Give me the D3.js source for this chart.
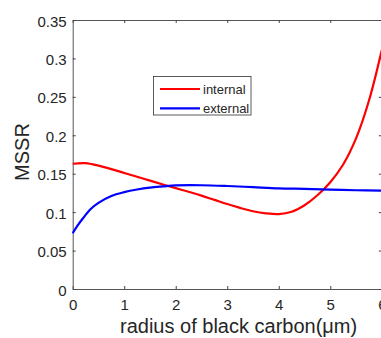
<!DOCTYPE html>
<html>
<head>
<meta charset="utf-8">
<script src="https://cdn.jsdelivr.net/npm/d3@7"></script>
<style>
  html, body { margin: 0; padding: 0; background: #fff; overflow: hidden; }
  svg { display: block; font-family: "Liberation Sans", Arial, Helvetica, sans-serif; }
</style>
</head>
<body>
<svg id="chart" width="381" height="338"></svg>
<script>
// MSSR versus black carbon radius, for internal and external mixing
const radiusInternal = [0, 0.25, 0.5, 0.75, 1.0, 1.25, 1.5, 1.75, 2.0, 2.25, 2.5, 2.75, 3.0,
                        3.25, 3.5, 3.75, 4.0, 4.25, 4.5, 4.75, 5.0, 5.25, 5.5, 5.75, 6.0];
const mssrInternal   = [0.163, 0.1637, 0.1605, 0.156, 0.151, 0.146, 0.141, 0.136, 0.1312, 0.1265,
                        0.1215, 0.116, 0.1105, 0.1055, 0.1012, 0.0985, 0.0975, 0.1005, 0.109, 0.122,
                        0.139, 0.162, 0.196, 0.245, 0.311];

const radiusExternal = [0, 0.1, 0.2, 0.35, 0.5, 0.75, 1.0, 1.25, 1.5, 1.75, 2.0, 2.5, 3.0,
                        3.5, 4.0, 4.5, 5.0, 5.5, 6.0];
const mssrExternal   = [0.0725, 0.083, 0.092, 0.104, 0.112, 0.121, 0.126, 0.1295, 0.132,
                        0.1335, 0.1348, 0.135, 0.134, 0.1325, 0.131, 0.1303, 0.1294, 0.1285, 0.128];

const xTicks = [0, 1, 2, 3, 4, 5, 6];
const yTicks = [0, 0.05, 0.1, 0.15, 0.2, 0.25, 0.3, 0.35];

const seriesNames  = ["internal", "external"];
const seriesColors = ["#ff0000", "#0000ff"];

const svg = d3.select("#chart");
const plot = { left: 72.7, right: 381.8, top: 20, bottom: 289 };
const textColor = "#262626";

const x = d3.scaleLinear().domain([0, 6]).range([plot.left, plot.right]);
const y = d3.scaleLinear().domain([0, 0.35]).range([plot.bottom, plot.top]);

// axes with inward ticks on all four sides
const tickLen = 3;
const fmtY = d => d === 0 ? "0" : String(+d.toFixed(2));

const gBottom = svg.append("g").attr("transform", `translate(0,${plot.bottom})`)
  .call(d3.axisBottom(x).tickValues(xTicks).tickSizeInner(-tickLen).tickSizeOuter(0).tickPadding(10).tickFormat(d3.format("d")));
const gTop = svg.append("g").attr("transform", `translate(0,${plot.top})`)
  .call(d3.axisTop(x).tickValues(xTicks).tickSizeInner(-tickLen).tickSizeOuter(0).tickFormat(""));
const gLeft = svg.append("g").attr("transform", `translate(${plot.left},0)`)
  .call(d3.axisLeft(y).tickValues(yTicks).tickSizeInner(-tickLen).tickSizeOuter(0).tickPadding(6).tickFormat(fmtY));
const gRight = svg.append("g").attr("transform", `translate(${plot.right},0)`)
  .call(d3.axisRight(y).tickValues(yTicks).tickSizeInner(-tickLen).tickSizeOuter(0).tickFormat(""));

[gBottom, gTop, gLeft, gRight].forEach(g => {
  g.select(".domain").attr("stroke", "#555").attr("stroke-width", 1);
  g.selectAll(".tick line").attr("stroke", "#444").attr("stroke-width", 1);
  g.selectAll(".tick text").attr("fill", textColor).attr("font-size", 15)
    .attr("font-family", "Liberation Sans, Arial, sans-serif");
});
gLeft.selectAll(".tick text").attr("dy", "0.4em");

// data curves
const line = d3.line().x(d => x(d[0])).y(d => y(d[1])).curve(d3.curveCatmullRom.alpha(0.5));
const dataSets = [
  d3.zip(radiusInternal, mssrInternal),
  d3.zip(radiusExternal, mssrExternal)
];
dataSets.forEach((pts, i) => {
  svg.append("path").datum(pts)
    .attr("d", line)
    .attr("fill", "none")
    .attr("stroke", seriesColors[i])
    .attr("stroke-width", 2.2)
    .attr("stroke-linejoin", "round");
});

// axis titles
svg.append("text")
  .attr("x", 120).attr("y", 333)
  .attr("fill", textColor).attr("font-size", 20)
  .text("radius of black carbon(μm)");

svg.append("text")
  .attr("transform", "translate(29,152) rotate(-90)")
  .attr("text-anchor", "middle")
  .attr("fill", textColor).attr("font-size", 20)
  .text("MSSR");

// legend
const lg = svg.append("g");
lg.append("rect")
  .attr("x", 153.5).attr("y", 76.5).attr("width", 97.5).attr("height", 38.5)
  .attr("fill", "#fff").attr("stroke", "#333").attr("stroke-width", 0.8);
seriesNames.forEach((name, i) => {
  const ly = 89 + i * 19.3;
  lg.append("line")
    .attr("x1", 160).attr("x2", 200).attr("y1", ly).attr("y2", ly)
    .attr("stroke", seriesColors[i]).attr("stroke-width", 2.2);
  lg.append("text")
    .attr("x", 203).attr("y", ly).attr("dy", "0.36em")
    .attr("fill", textColor).attr("font-size", 13)
    .text(name);
});
</script>
</body>
</html>
